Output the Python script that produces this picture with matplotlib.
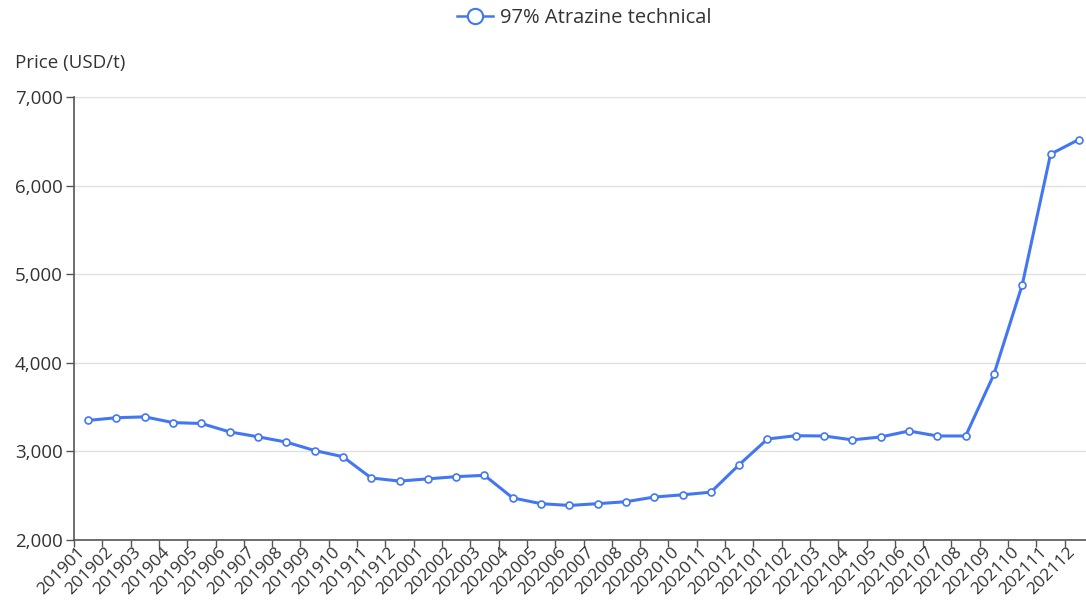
import matplotlib
import numpy as np

matplotlib.use("Agg")

import matplotlib.pyplot as plt
from matplotlib.lines import Line2D
from matplotlib.ticker import FuncFormatter

months = [
    "201901", "201902", "201903", "201904", "201905", "201906",
    "201907", "201908", "201909", "201910", "201911", "201912",
    "202001", "202002", "202003", "202004", "202005", "202006",
    "202007", "202008", "202009", "202010", "202011", "202012",
    "202101", "202102", "202103", "202104", "202105", "202106",
    "202107", "202108", "202109", "202110", "202111", "202112",
]
prices = [
    3350, 3380, 3390, 3325, 3315, 3220,
    3165, 3105, 3010, 2940, 2700, 2665,
    2690, 2715, 2730, 2475, 2410, 2390,
    2410, 2432, 2485, 2510, 2540, 2850,
    3140, 3177, 3174, 3130, 3163, 3230,
    3174, 3174, 3870, 4880, 6355, 6520,
]
series_name = "97% Atrazine technical"
y_label = "Price (USD/t)"
y_ticks = [2000, 3000, 4000, 5000, 6000, 7000]

line_color = "#4377f2"
axis_color = "#555555"
text_color = "#333333"

plt.rcParams["font.family"] = ["Open Sans", "DejaVu Sans"]

fig = plt.figure(figsize=(10.86, 6.10), dpi=100)
ax = fig.add_axes([74 / 1086, 70 / 610, 1019 / 1086, 443 / 610])

x = np.arange(len(months))
ax.plot(
    x, prices,
    color=line_color, linewidth=2.2,
    marker="o", markersize=5, markerfacecolor="white",
    markeredgecolor=line_color, markeredgewidth=1.2,
    zorder=3, clip_on=False,
)

ax.set_xlim(-0.5, len(months) - 0.5)
ax.set_ylim(2000, 7000)
ax.set_yticks(y_ticks)
ax.yaxis.set_major_formatter(FuncFormatter(lambda v, _: f"{v:,.0f}"))
ax.grid(axis="y", color="#e0e0e0", linewidth=1.0)
ax.set_axisbelow(True)

# ticks on category boundaries, labels on category centres
ax.set_xticks(np.arange(len(months) + 1) - 0.5)
ax.set_xticklabels([])
ax.set_xticks(x, minor=True)
ax.set_xticklabels(months, minor=True, rotation=45, ha="right", va="top",
                   fontsize=12.5, color=text_color)
ax.tick_params(axis="x", which="major", length=5, width=1.0, color=axis_color)
ax.tick_params(axis="x", which="minor", length=0, pad=3)
ax.tick_params(axis="y", length=6, width=1.0, color=axis_color,
               labelsize=13.5, labelcolor=text_color, pad=2)

for side in ("top", "right"):
    ax.spines[side].set_visible(False)
for side in ("left", "bottom"):
    ax.spines[side].set_color(axis_color)
    ax.spines[side].set_linewidth(1.2)

fig.text(15 / 1086, 1 - 63 / 610, y_label, fontsize=13.5, color=text_color,
         ha="left", va="center")

handle = Line2D([], [], color=line_color, linewidth=1.8, marker="o",
                markersize=11, markerfacecolor="white",
                markeredgecolor=line_color, markeredgewidth=1.5)
fig.legend([handle], [series_name], loc="center", bbox_to_anchor=(584 / 1086, 1 - 18 / 610),
           frameon=False, fontsize=14.5, handlelength=1.8, handletextpad=0.35,
           labelcolor=text_color)

fig.savefig("out.png", dpi=100)
